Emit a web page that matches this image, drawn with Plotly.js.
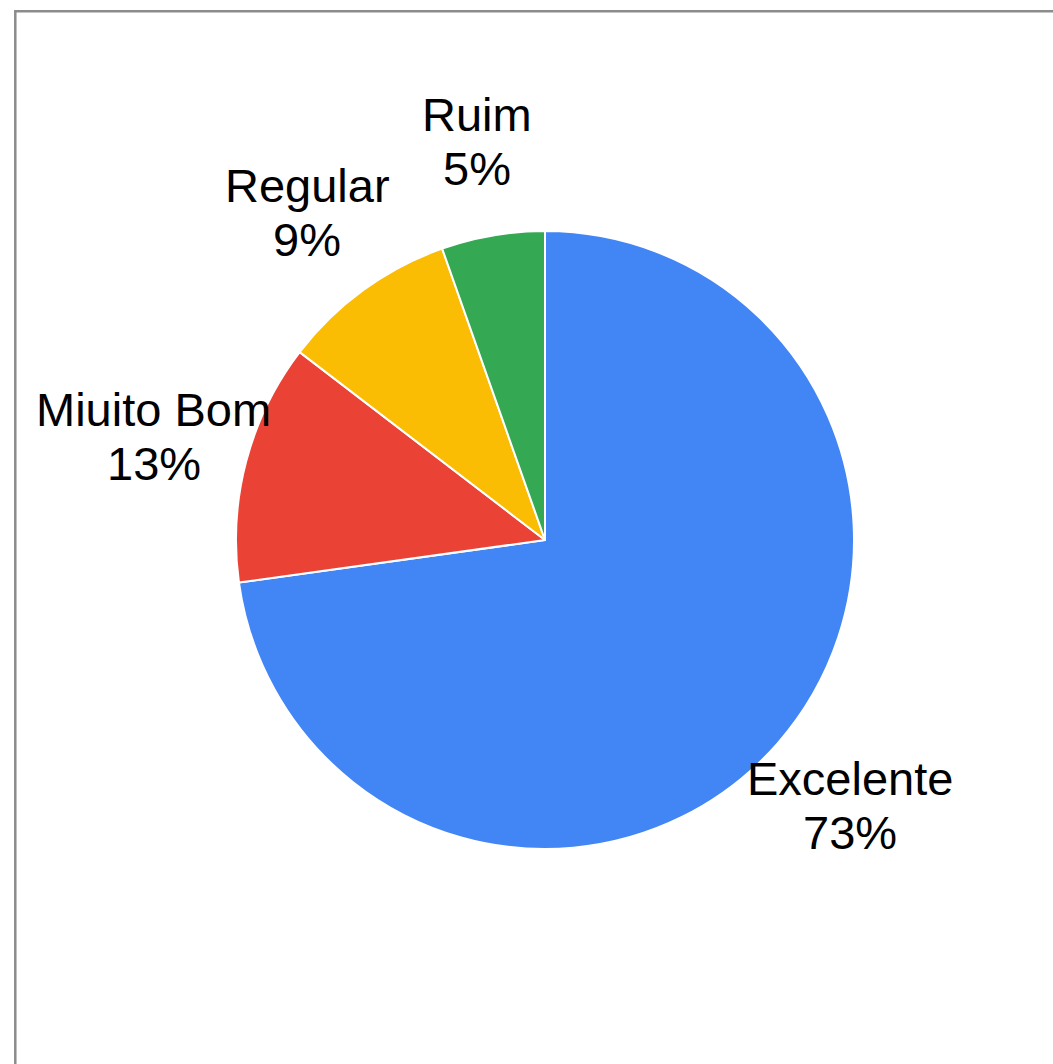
<!DOCTYPE html>
<html>
<head>
<meta charset="utf-8">
<script src="https://cdn.plot.ly/plotly-3.0.1.min.js"></script>
<style>html,body{margin:0;padding:0;background:#fff;}#chart{width:1053px;height:1064px;}</style>
</head>
<body>
<div id="chart"></div>
<script>
const categories = ['Excelente', 'Miuito Bom', 'Regular', 'Ruim'];
const values = [72.8, 12.6, 9.2, 5.4];
const colors = ['#4285F4', '#EA4335', '#FBBC04', '#34A853'];

const W = 1053, H = 1064;
const cxPx = 545, cyPx = 540, R = 309;
const domX = [(cxPx - R) / W, (cxPx + R) / W];
const domY = [(H - cyPx - R) / H, (H - cyPx + R) / H];
const labelDist = 1.31 * R;
const fontFamily = '"Liberation Sans", Arial, sans-serif';
const fontSize = 47;
const lineGap = 27;

const total = values.reduce((a, b) => a + b, 0);
const annotations = [];
let cum = 0;
values.forEach((v, i) => {
  const mid = (cum + v / 2) / total * 2 * Math.PI;
  cum += v;
  const px = cxPx + labelDist * Math.sin(mid);
  const py = cyPx - labelDist * Math.cos(mid);
  const ax = px / W, ay = 1 - py / H;
  const pct = Math.round(v / total * 100) + '%';
  [[categories[i], lineGap], [pct, -lineGap]].forEach(([t, ys]) => {
    annotations.push({
      xref: 'paper', yref: 'paper', x: ax, y: ay, yshift: ys,
      xanchor: 'center', yanchor: 'middle', showarrow: false,
      text: t, font: {family: fontFamily, size: fontSize, color: '#000'}
    });
  });
});

const data = [{
  type: 'pie',
  labels: categories,
  values: values,
  sort: false,
  direction: 'clockwise',
  rotation: 0,
  marker: {colors: colors, line: {color: '#ffffff', width: 2}},
  textinfo: 'none',
  hoverinfo: 'none',
  domain: {x: domX, y: domY}
}];

const layout = {
  width: W, height: H,
  margin: {l: 0, r: 0, t: 0, b: 0},
  paper_bgcolor: '#ffffff',
  showlegend: false,
  annotations: annotations,
  shapes: [{
    type: 'rect', xref: 'paper', yref: 'paper',
    x0: 15.3 / W, x1: 1.05, y0: -0.05, y1: 1 - 11.3 / H,
    line: {color: '#8c8c8c', width: 2.5}, fillcolor: 'rgba(0,0,0,0)'
  }]
};

Plotly.newPlot('chart', data, layout, {staticPlot: true, displayModeBar: false});
</script>
</body>
</html>
